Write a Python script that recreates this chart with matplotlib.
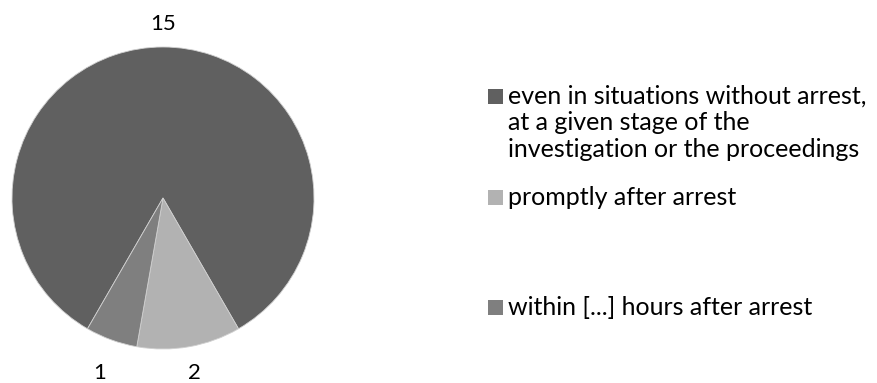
import matplotlib
matplotlib.use("Agg")
import matplotlib.pyplot as plt
from matplotlib.patches import Rectangle
import numpy as np

plt.rcParams['font.family'] = ['Lato', 'DejaVu Sans']

# data
categories = ["even in situations without arrest,\nat a given stage of the\ninvestigation or the proceedings",
              "promptly after arrest",
              "within [...] hours after arrest"]
values = [15, 2, 1]
colors = ["#606060", "#b2b2b2", "#7f7f7f"]

W, H = 877, 383
fig = plt.figure(figsize=(W / 100, H / 100), dpi=100)

# pie centre at (163,198) px, radius ~151 px
cx, cy, r = 163, 198, 151
ax = fig.add_axes([(cx - r) / W, (H - cy - r) / H, 2 * r / W, 2 * r / H])
wedges, texts = ax.pie(values, colors=colors, startangle=-120, counterclock=False,
                       labels=[str(v) for v in values], labeldistance=1.18,
                       wedgeprops=dict(edgecolor="#d0d0d0", linewidth=0.6),
                       textprops=dict(fontsize=16, color="black"))
label_dist = [1.15, 1.18, 1.23]
for w, t, d in zip(wedges, texts, label_dist):
    a = np.deg2rad((w.theta1 + w.theta2) / 2)
    t.set_position((d * np.cos(a), d * np.sin(a)))
    t.set_ha("center")
    t.set_va("center")
ax.set_xlim(-1, 1)
ax.set_ylim(-1, 1)
ax.set_aspect("equal")

# legend, drawn by hand to keep Excel's uneven spacing (baselines in px from top)
leg_base = [104, 205, 315]
line_h = 26.5
for lab, col, y in zip(categories, colors, leg_base):
    fig.patches.append(Rectangle((488 / W, (H - y) / H), 15 / W, 15 / H,
                                 transform=fig.transFigure, facecolor=col, edgecolor="none"))
    for i, line in enumerate(lab.split("\n")):
        fig.text(508 / W, (H - y - i * line_h) / H, line, fontsize=18,
                 va="baseline", ha="left")

fig.savefig("out.png", dpi=100)
